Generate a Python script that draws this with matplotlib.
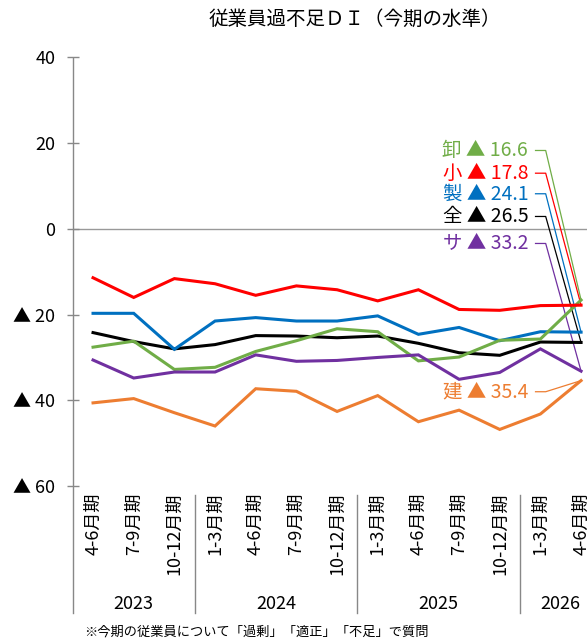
import matplotlib
matplotlib.use("Agg")
import matplotlib.pyplot as plt
import matplotlib.transforms as mtransforms
from matplotlib.lines import Line2D

plt.rcParams['font.family'] = ['Noto Sans CJK JP', 'DejaVu Sans']

# quarters (x categories) and year groups
quarters = ['4-6月期', '7-9月期', '10-12月期',
            '1-3月期', '4-6月期', '7-9月期', '10-12月期',
            '1-3月期', '4-6月期', '7-9月期', '10-12月期',
            '1-3月期', '4-6月期']
years = ['2023', '2024', '2025', '2026']
year_sizes = [3, 4, 4, 2]

# DI values per industry (negative = shortage)
zen = [-24.2, -26.3, -28.0, -27.0, -24.9, -25.0, -25.4, -25.0, -26.7, -28.9, -29.5, -26.4, -26.5]
sei = [-19.7, -19.7, -28.1, -21.5, -20.7, -21.5, -21.5, -20.3, -24.6, -23.0, -26.1, -24.0, -24.1]
oroshi = [-27.6, -26.2, -32.8, -32.3, -28.6, -26.1, -23.3, -24.0, -30.8, -29.9, -26.0, -25.7, -16.6]
kouri = [-11.4, -16.0, -11.6, -12.8, -15.5, -13.3, -14.2, -16.8, -14.2, -18.8, -19.0, -17.9, -17.8]
ken = [-40.6, -39.6, -42.9, -46.0, -37.3, -37.9, -42.6, -38.9, -45.0, -42.3, -46.8, -43.2, -35.4]
sa = [-30.6, -34.8, -33.4, -33.4, -29.4, -30.9, -30.7, -30.0, -29.4, -35.1, -33.5, -28.0, -33.2]

series = [
    ('全', zen, 'black'),
    ('製', sei, '#0070C0'),
    ('卸', oroshi, '#70AD47'),
    ('小', kouri, '#FF0000'),
    ('建', ken, '#ED7D31'),
    ('サ', sa, '#7030A0'),
]

# label y positions (data units) for the end-of-line labels
label_y = {'卸': 18.3, '小': 13.0, '製': 8.2, '全': 2.9, 'サ': -3.4, '建': -38.0}

fig = plt.figure(figsize=(5.87, 6.42), dpi=100)
W, H = 587, 642
ax_left, ax_bottom = 72.7, 486.0
step = 40.67
ax_w = step * len(quarters)
ax_h = 486.0 - 57.5
ax = fig.add_axes([ax_left / W, 1 - ax_bottom / H, ax_w / W, ax_h / H])

x = list(range(len(quarters)))
for name, vals, col in series:
    ax.plot(x, vals, color=col, lw=2.2, solid_joinstyle='miter', zorder=3)

# end labels with leader lines
for name, vals, col in series:
    ly = label_y[name]
    ax.text(10.70, ly, '%s ▲ %.1f' % (name, -vals[-1]), color=col,
            ha='right', va='center', fontsize=14)
    ax.plot([10.88, 11.13, x[-1]], [ly, ly, vals[-1]], color=col, lw=0.9,
            zorder=2, clip_on=False)

ax.axhline(0, color='#999999', lw=1.0, zorder=1)

ax.set_xlim(-0.5, len(quarters) - 0.5)
ax.set_ylim(-60, 40)
ax.set_yticks([40, 20, 0, -20, -40, -60])
ax.set_yticklabels(['40', '20', '0', '▲ 20', '▲ 40', '▲ 60'])
ax.set_xticks([])
for s in ax.spines.values():
    s.set_visible(False)
ax.tick_params(axis='y', direction='inout', length=9, width=1.0,
               color='#888888', pad=8, labelsize=13)

# left axis line, extended down through the category area
axis_col = '#888888'
fig.add_artist(Line2D([ax_left / W] * 2, [1 - 57.5 / H, 1 - 613 / H],
                      color=axis_col, lw=1.0))

# year separators
pos = 0
for n in year_sizes[:-1]:
    pos += n
    xp = (ax_left + pos * step) / W
    fig.add_artist(Line2D([xp, xp], [1 - 495 / H, 1 - 613 / H],
                          color=axis_col, lw=1.0))

# category labels (vertical) and year labels
trans = mtransforms.blended_transform_factory(ax.transData, fig.transFigure)
for i, q in enumerate(quarters):
    ax.text(i, 1 - 493 / H, q, rotation=90, ha='center', va='top',
            fontsize=13, transform=trans, clip_on=False)
pos = 0
for yr, n in zip(years, year_sizes):
    ax.text(pos + (n - 1) / 2, 1 - 604 / H, yr, ha='center', va='center',
            fontsize=13, transform=trans, clip_on=False)
    pos += n

fig.text(355 / W, 1 - 19 / H, '従業員過不足ＤＩ（今期の水準）', ha='center',
         va='center', fontsize=14)
fig.text(84 / W, 1 - 632 / H, '※今期の従業員について「過剰」「適正」「不足」で質問',
         ha='left', va='center', fontsize=9.5)

fig.savefig('out.png', dpi=100)
